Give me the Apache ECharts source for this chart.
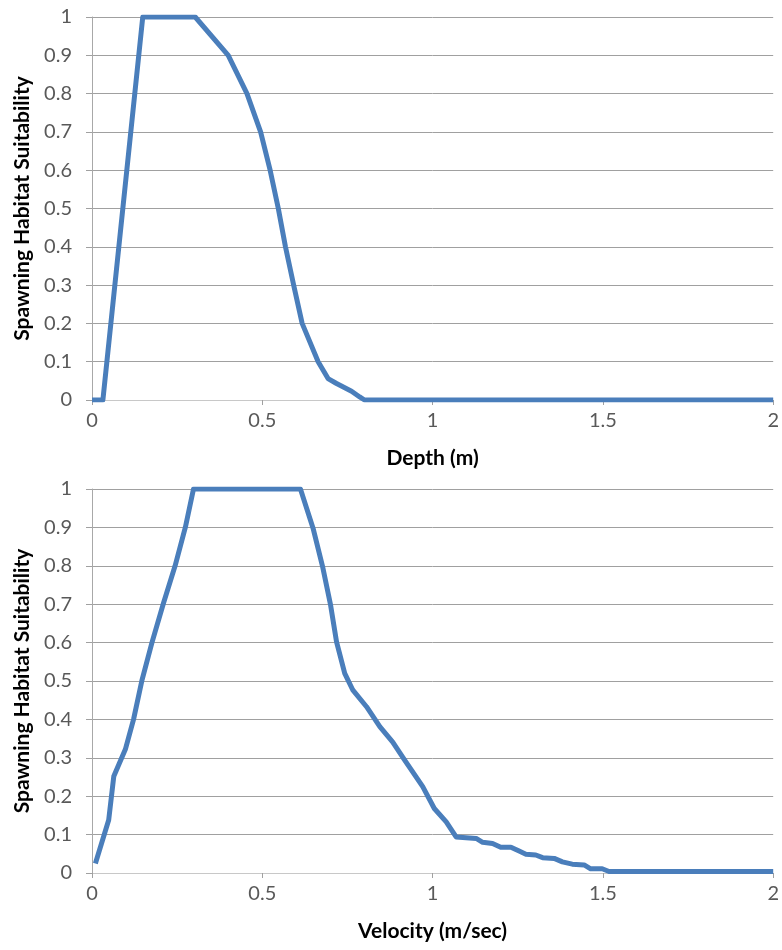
<!DOCTYPE html>
<html>
<head>
<meta charset="utf-8">
<script src="https://cdn.jsdelivr.net/npm/echarts@6/dist/echarts.min.js"></script>
<style>
html,body{margin:0;padding:0;background:#fff;}
#chart{width:782px;height:950px;}
</style>
</head>
<body>
<div id="chart"></div>
<script>
// Depth suitability curve
const depthX = [0, 0.032, 0.149, 0.303, 0.40, 0.455, 0.495, 0.523, 0.547, 0.568, 0.592, 0.617, 0.664, 0.693, 0.718, 0.762, 0.786, 0.80, 2.0];
const depthY = [0, 0, 1, 1, 0.9, 0.8, 0.7, 0.6, 0.5, 0.4, 0.3, 0.2, 0.1, 0.056, 0.043, 0.023, 0.008, 0, 0];

// Velocity suitability curve
const velX = [0.01, 0.049, 0.064, 0.098, 0.122, 0.147, 0.176, 0.21, 0.244, 0.274, 0.298, 0.612, 0.649, 0.677, 0.70, 0.718, 0.742, 0.766, 0.806, 0.845, 0.883, 0.918, 0.971, 1.005, 1.04, 1.069, 1.128, 1.147, 1.176, 1.2, 1.23, 1.254, 1.274, 1.303, 1.323, 1.357, 1.381, 1.41, 1.445, 1.464, 1.498, 1.518, 2.0];
const velY = [0.025, 0.138, 0.252, 0.322, 0.40, 0.503, 0.60, 0.703, 0.80, 0.90, 1, 1, 0.898, 0.798, 0.70, 0.602, 0.52, 0.476, 0.433, 0.381, 0.341, 0.294, 0.225, 0.168, 0.133, 0.094, 0.090, 0.080, 0.077, 0.067, 0.067, 0.057, 0.049, 0.047, 0.04, 0.038, 0.029, 0.023, 0.021, 0.011, 0.011, 0.004, 0.004];

// Axis labels
const xTitles = ['Depth (m)', 'Velocity (m/sec)'];
const yTitle = 'Spawning Habitat Suitability';

const FONT = 'Lato, "Open Sans", sans-serif';
const gridColor = '#a0a0a0';
const lineColor = '#4a7ebb';

function pairs(xs, ys) { return xs.map((x, i) => [x, ys[i]]); }

function xAxisFor(idx) {
  return {
    gridIndex: idx, type: 'value', min: 0, max: 2, interval: 0.5,
    name: xTitles[idx], nameLocation: 'middle', nameGap: 48,
    nameTextStyle: {fontFamily: FONT, fontSize: 21, fontWeight: 'bold', color: '#000'},
    axisLine: {show: true, lineStyle: {color: '#c8c8c8', width: 1}},
    axisTick: {show: true, length: 5, inside: false, lineStyle: {color: '#a0a0a0'}},
    axisLabel: {fontFamily: FONT, fontSize: 20, color: '#595959', margin: 11,
      formatter: v => String(v)},
    splitLine: {show: false}
  };
}
function yAxisFor(idx) {
  return {
    gridIndex: idx, type: 'value', min: 0, max: 1, interval: 0.1,
    name: yTitle, nameLocation: 'middle', nameGap: 59, nameRotate: 90,
    nameTextStyle: {fontFamily: FONT, fontSize: 21, fontWeight: 'bold', color: '#000'},
    axisLine: {show: true, lineStyle: {color: '#a8a8a8', width: 1}},
    axisTick: {show: true, length: 6, lineStyle: {color: gridColor}},
    axisLabel: {fontFamily: FONT, fontSize: 20, color: '#595959', margin: 20,
      formatter: v => String(Math.round(v * 10) / 10)},
    splitLine: {show: true, lineStyle: {color: gridColor, width: 1}}
  };
}

const chart = echarts.init(document.getElementById('chart'), null, {renderer: 'canvas'});
chart.setOption({
  animation: false,
  backgroundColor: '#ffffff',
  grid: [
    {left: 92, right: 8, top: 17, height: 383},
    {left: 92, right: 8, top: 489, height: 384}
  ],
  xAxis: [xAxisFor(0), xAxisFor(1)],
  yAxis: [yAxisFor(0), yAxisFor(1)],
  series: [
    {type: 'line', xAxisIndex: 0, yAxisIndex: 0, data: pairs(depthX, depthY),
      showSymbol: false, lineStyle: {color: lineColor, width: 5, join: 'round'}},
    {type: 'line', xAxisIndex: 1, yAxisIndex: 1, data: pairs(velX, velY),
      showSymbol: false, lineStyle: {color: lineColor, width: 5, join: 'round'}}
  ]
});
</script>
</body>
</html>
